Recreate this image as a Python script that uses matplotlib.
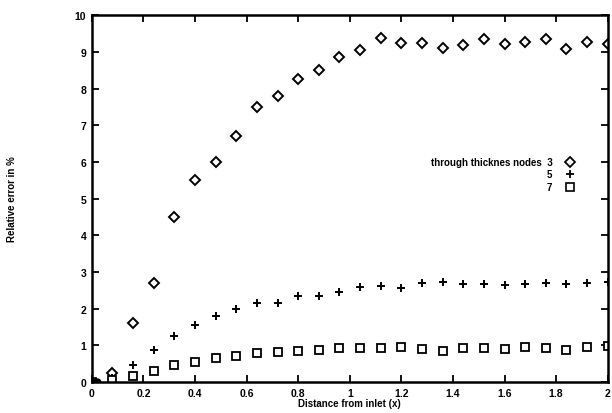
import numpy as np
import matplotlib
matplotlib.use('Agg')
import matplotlib.pyplot as plt
from matplotlib.lines import Line2D

# positions along the plate (x), 26 stations
x = np.round(np.arange(0, 2.0001, 0.08), 2)

# relative error in % for 3, 5 and 7 through-thickness nodes
err3 = [0.0, 0.25, 1.6, 2.7, 4.5, 5.5, 6.0, 6.7, 7.5, 7.8, 8.25, 8.5, 8.85,
        9.05, 9.37, 9.25, 9.25, 9.1, 9.18, 9.36, 9.22, 9.26, 9.36, 9.08, 9.26, 9.2]
err5 = [0.0, 0.1, 0.47, 0.87, 1.24, 1.55, 1.79, 1.99, 2.16, 2.15, 2.35, 2.35, 2.46,
        2.6, 2.62, 2.57, 2.69, 2.73, 2.67, 2.66, 2.64, 2.68, 2.69, 2.66, 2.71, 2.73]
err7 = [0.0, 0.05, 0.17, 0.31, 0.46, 0.55, 0.64, 0.72, 0.79, 0.83, 0.85, 0.88, 0.93,
        0.93, 0.93, 0.96, 0.9, 0.85, 0.93, 0.92, 0.9, 0.95, 0.92, 0.87, 0.95, 0.99]

plt.rcParams['font.family'] = ['Liberation Sans', 'DejaVu Sans']
plt.rcParams['font.weight'] = 'bold'
plt.rcParams['axes.labelweight'] = 'bold'

fig = plt.figure(figsize=(6.12, 4.14), dpi=100)
ax = fig.add_axes([0.150, 0.075, 0.843, 0.886])

ax.plot(x, err3, linestyle='none', marker='D', ms=5, mfc='white', mec='black', mew=1.4)
ax.plot(x, err5, linestyle='none', marker='+', ms=6, mec='black', mew=1.4)
ax.plot(x, err7, linestyle='none', marker='s', ms=6, mfc='white', mec='black', mew=1.3)
# filled blob at the origin
ax.plot([0, 0.02], [0, 0], linestyle='none', marker='o', ms=5, color='black')

ax.set_xlim(0, 2)
ax.set_ylim(0, 10)
ax.set_xticks(np.arange(0, 2.01, 0.2))
ax.set_xticklabels(['0', '0.2', '0.4', '0.6', '0.8', '1', '1.2', '1.4', '1.6', '1.8', '2'])
ax.set_yticks(range(0, 11))

ax.tick_params(direction='in', length=5, width=1.3, top=True, right=True,
               labelsize=7.5, pad=4)
for s in ax.spines.values():
    s.set_linewidth(1.8)

ax.set_xlabel('Distance from inlet (x)', fontsize=7, labelpad=0)
ax.set_ylabel('Relative error in %', fontsize=7)
ax.yaxis.set_label_coords(-0.145, 0.5)

handles = [Line2D([], [], linestyle='none', marker='D', ms=5, mfc='white', mec='black', mew=1.3),
           Line2D([], [], linestyle='none', marker='+', ms=6, mec='black', mew=1.3),
           Line2D([], [], linestyle='none', marker='s', ms=5.5, mfc='white', mec='black', mew=1.2)]
ax.legend(handles, ['through thicknes nodes  3', '5', '7'], markerfirst=False,
          frameon=False, fontsize=7, handlelength=1.2, handletextpad=1.2,
          labelspacing=0.25, loc='upper left', bbox_to_anchor=(0.64, 0.637))

fig.savefig('out.png', dpi=100)
